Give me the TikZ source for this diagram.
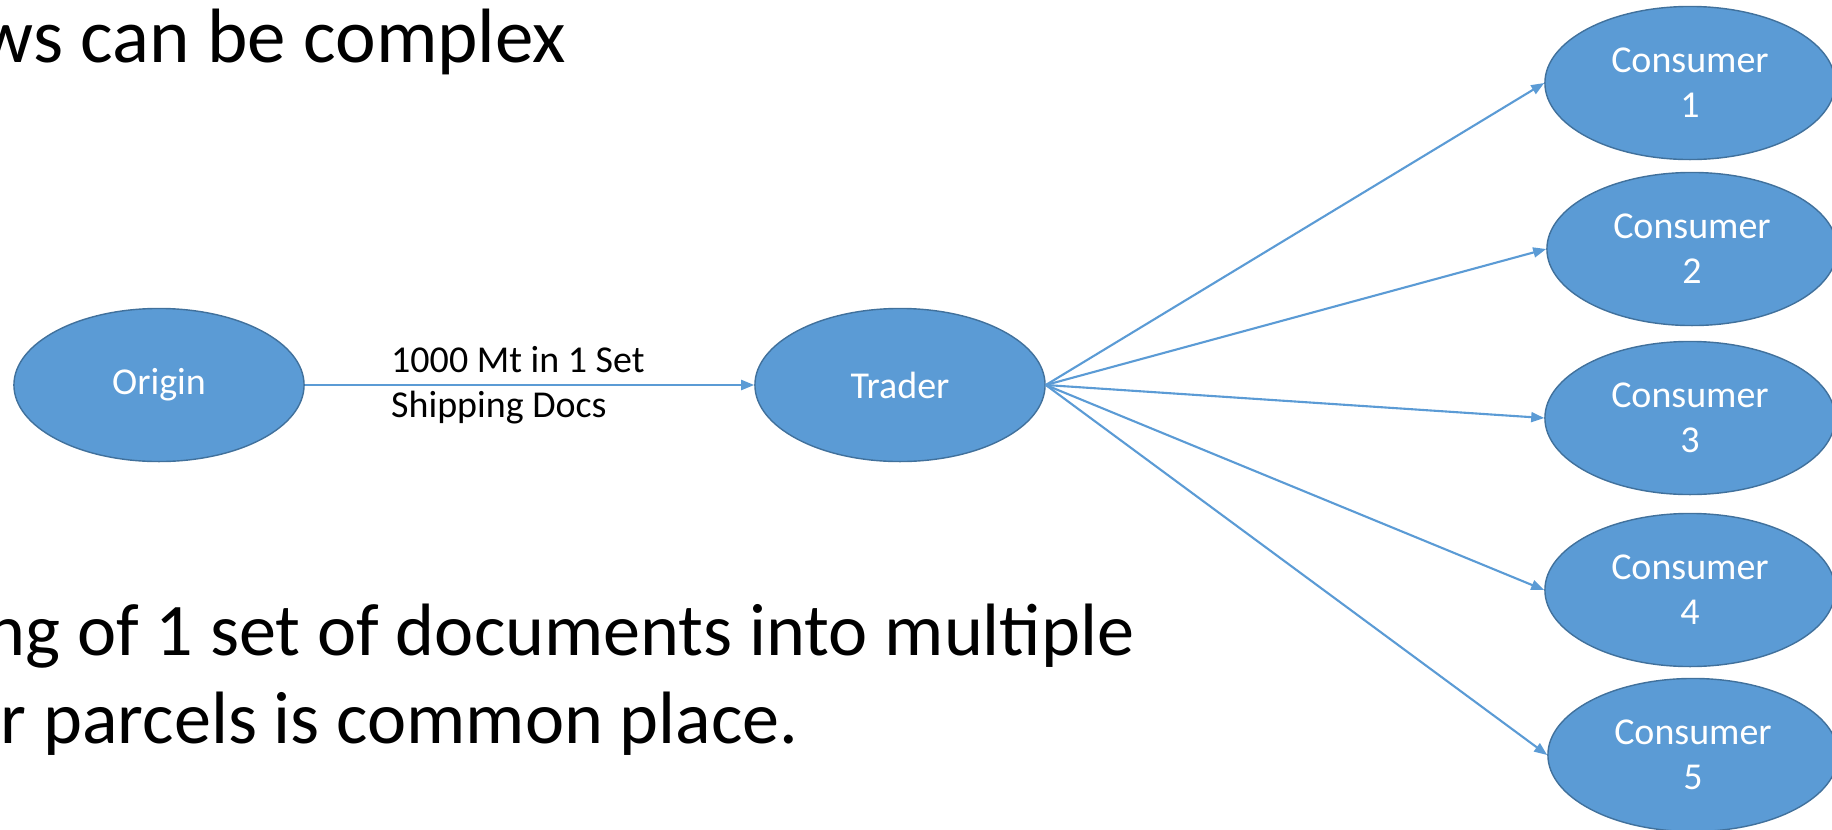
\documentclass[tikz,border=0pt]{standalone}
\usepackage{fontspec}
\setmainfont{Carlito}
\usetikzlibrary{arrows.meta,shapes.geometric}
\definecolor{nodeblue}{HTML}{5B9BD5}
\definecolor{nodeedge}{HTML}{41719C}
\begin{document}
\begin{tikzpicture}[x=0.01cm, y=-0.01cm,
    blob/.style={ellipse, draw=nodeedge, line width=0.4pt, fill=nodeblue, text=white,
        minimum width=2.9cm, minimum height=1.53cm, inner sep=0pt, align=center,
        font=\fontsize{10.8}{12.8}\selectfont},
    flow/.style={draw=nodeblue, line width=0.6pt, -{Triangle[length=1.3mm, width=1mm]}},
    big/.style={anchor=base west, inner sep=0pt, font=\fontsize{21.1}{26}\selectfont}]
    \useasboundingbox (0,0) rectangle (1832,830);
    % slide text
    \node[big, font=\fontsize{21.9}{27}\selectfont] (title) at (-22,62) {ws can be complex};
    \node[big] (line1) at (-14,655) {ng of 1 set of documents into multiple};
    \node[big] (line2) at (0,743) {r parcels is common place.};

    % parties
    \node[blob] (origin) at (159,385) {Origin};
    \node[blob] (trader) at (900,385) {Trader};
    \foreach \i/\x/\y in {1/1690/83, 2/1692/249, 3/1690/418, 4/1690/590, 5/1693/755}
        \node[blob] (c\i) at (\x,\y) {Consumer\\\i};

    % flows
    \draw[flow] (origin) -- node[pos=0.19, anchor=west, inner sep=0pt, align=left,
        font=\fontsize{10.8}{12.8}\selectfont] (docs) {1000 Mt in 1 Set\\Shipping Docs} (trader);
    \foreach \i in {1,...,5} \draw[flow] (trader.east) -- (c\i.west);
\end{tikzpicture}
\end{document}
